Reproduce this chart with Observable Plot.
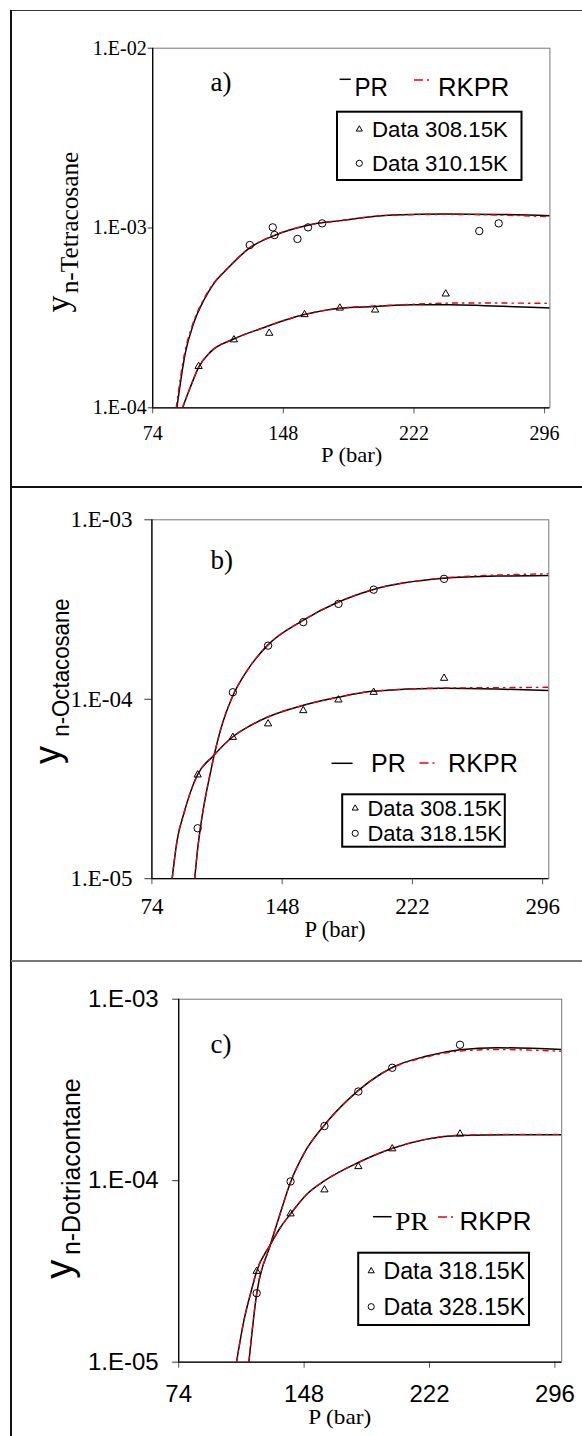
<!DOCTYPE html>
<html><head><meta charset="utf-8">
<script src="https://cdn.jsdelivr.net/npm/d3@7"></script>
<script src="https://cdn.jsdelivr.net/npm/@observablehq/plot@0.6"></script>
<style>
body{margin:0;background:#fff;}
#wrap{position:relative;width:582px;height:1436px;overflow:hidden;background:#fff;}
.pn{position:absolute;left:0;}
.bd{position:absolute;}
</style></head><body><div id="wrap"></div>
<script>
// ---------- shared ----------
const xTicks = [74, 148, 222, 296];

// ---------- panel a : n-Tetracosane ----------
const aYTicks = [1e-4, 1e-3, 1e-2];
const aYLabels = ["1.E-04", "1.E-03", "1.E-02"];
const aP308 = [100, 120, 140, 160, 180, 200, 240];
const aY308 = [1.70e-4, 2.39e-4, 2.60e-4, 3.30e-4, 3.59e-4, 3.50e-4, 4.30e-4];
const aP310 = [129, 142, 143, 156, 162, 170, 259, 270];
const aY310 = [8.04e-4, 1.008e-3, 9.14e-4, 8.69e-4, 1.008e-3, 1.061e-3, 9.62e-4, 1.061e-3];
const aPRupP = [87.7, 92.4, 97.1, 102.8, 108.5, 116.1, 129.3, 142.5, 163.3, 180.3, 210, 240, 270, 299];
const aPRupY = [1.0e-4, 2.0e-4, 2.93e-4, 3.94e-4, 4.89e-4, 5.91e-4, 7.80e-4, 9.06e-4, 1.043e-3, 1.099e-3, 1.18e-3, 1.195e-3, 1.19e-3, 1.17e-3];
const aRKupP = [87.3, 92.0, 96.7, 102.4, 108.2, 115.9, 129.2, 142.4, 163.3, 180.3, 210, 240, 270, 299];
const aRKupY = [1.0e-4, 2.0e-4, 2.93e-4, 3.94e-4, 4.89e-4, 5.91e-4, 7.80e-4, 9.06e-4, 1.043e-3, 1.099e-3, 1.18e-3, 1.19e-3, 1.18e-3, 1.155e-3];
const aPRloP = [90.9, 95.3, 100, 106.6, 120.2, 135, 159.9, 180, 199.8, 222, 242, 262, 299];
const aPRloY = [1.0e-4, 1.30e-4, 1.68e-4, 2.04e-4, 2.42e-4, 2.75e-4, 3.30e-4, 3.58e-4, 3.66e-4, 3.74e-4, 3.74e-4, 3.70e-4, 3.59e-4];
const aRKloP = [90.9, 95.3, 100, 106.6, 120.2, 135, 159.9, 180, 199.8, 222, 250, 299];
const aRKloY = [1.0e-4, 1.30e-4, 1.68e-4, 2.04e-4, 2.42e-4, 2.75e-4, 3.30e-4, 3.58e-4, 3.68e-4, 3.77e-4, 3.83e-4, 3.81e-4];

// ---------- panel b : n-Octacosane ----------
const bYTicks = [1e-5, 1e-4, 1e-3];
const bYLabels = ["1.E-05", "1.E-04", "1.E-03"];
const bP = [100, 120, 140, 160, 180, 200, 240];
const bY308 = [3.79e-5, 6.14e-5, 7.30e-5, 8.65e-5, 9.92e-5, 1.094e-4, 1.31e-4];
const bY318 = [1.91e-5, 1.094e-4, 1.99e-4, 2.69e-4, 3.40e-4, 4.08e-4, 4.69e-4];
const bPRupP = [98.3, 99.7, 101.6, 104.4, 107.3, 109.1, 112.9, 119.6, 128.1, 139.5, 159.6, 179.6, 199.5, 239.5, 270, 299.5];
const bPRupY = [1.0e-5, 1.38e-5, 1.94e-5, 2.84e-5, 3.92e-5, 4.75e-5, 6.70e-5, 1.026e-4, 1.445e-4, 1.99e-4, 2.74e-4, 3.47e-4, 4.08e-4, 4.72e-4, 4.86e-4, 4.89e-4];
const bRKupY = [1.0e-5, 1.38e-5, 1.94e-5, 2.84e-5, 3.92e-5, 4.75e-5, 6.70e-5, 1.026e-4, 1.445e-4, 1.99e-4, 2.74e-4, 3.47e-4, 4.08e-4, 4.74e-4, 4.92e-4, 5.0e-4];
const bPRloP = [85.5, 88.3, 92.1, 99.7, 109.1, 119.6, 130, 139.5, 159.6, 179.6, 199.5, 239.5, 270, 299.5];
const bPRloY = [1.0e-5, 1.63e-5, 2.30e-5, 3.76e-5, 4.86e-5, 6.14e-5, 7.14e-5, 7.94e-5, 9.23e-5, 1.026e-4, 1.108e-4, 1.15e-4, 1.14e-4, 1.118e-4];
const bRKloY = [1.0e-5, 1.63e-5, 2.30e-5, 3.76e-5, 4.86e-5, 6.14e-5, 7.14e-5, 7.94e-5, 9.23e-5, 1.026e-4, 1.108e-4, 1.155e-4, 1.16e-4, 1.166e-4];

// ---------- panel c : n-Dotriacontane ----------
const cYTicks = [1e-5, 1e-4, 1e-3];
const cYLabels = ["1.E-05", "1.E-04", "1.E-03"];
const cP = [120, 140, 160, 180, 200, 240];
const cY318 = [3.17e-5, 6.57e-5, 8.91e-5, 1.197e-4, 1.50e-4, 1.81e-4];
const cY328 = [2.40e-5, 9.90e-5, 2.00e-4, 3.10e-4, 4.19e-4, 5.61e-4];
const cPRupP = [115.4, 120, 127.8, 133.1, 140, 147.9, 159.7, 173.5, 200.3, 220, 240, 262.1, 300];
const cPRupY = [1.0e-5, 2.38e-5, 4.35e-5, 6.25e-5, 9.81e-5, 1.41e-4, 2.01e-4, 2.77e-4, 4.22e-4, 4.85e-4, 5.26e-4, 5.40e-4, 5.28e-4];
const cRKupY = [1.0e-5, 2.38e-5, 4.35e-5, 6.25e-5, 9.81e-5, 1.41e-4, 2.01e-4, 2.77e-4, 4.20e-4, 4.80e-4, 5.18e-4, 5.28e-4, 5.17e-4];
const cPRloP = [108.1, 112.5, 117.4, 120, 127.8, 134.1, 140, 149.9, 160.1, 180, 200.3, 240, 271.9, 300.5];
const cPRloY = [1.0e-5, 1.70e-5, 2.59e-5, 3.17e-5, 4.40e-5, 5.54e-5, 6.57e-5, 8.48e-5, 1.0e-4, 1.26e-4, 1.51e-4, 1.775e-4, 1.79e-4, 1.79e-4];
const cRKloY = [1.0e-5, 1.70e-5, 2.59e-5, 3.17e-5, 4.40e-5, 5.54e-5, 6.57e-5, 8.48e-5, 1.0e-4, 1.26e-4, 1.51e-4, 1.78e-4, 1.80e-4, 1.80e-4];

// ---------- helpers ----------
const zip = (ps, ys) => ps.map((p, i) => ({P: p, y: ys[i]}));
const fmt = (labels, ticks) => d => labels[ticks.findIndex(t => Math.abs(t - d) / t < 1e-6)];
const SERIF = "Liberation Serif, Times New Roman, serif";
const SANS = "Liberation Sans, Arial, sans-serif";
const RED = "#e8000b";
const DASH = "5,5,1.5,5";

function makePanel(c) {
  const marks = [
    Plot.frame({stroke: "#777", strokeWidth: 1}),
    Plot.axisX({ticks: xTicks, label: null, tickSize: 6, tickPadding: c.xPad, fontSize: c.tickFs, fontFamily: c.tickFont, stroke: "#555", tickFormat: d => String(d)}),
    Plot.axisY({ticks: c.yTicks, label: null, tickSize: c.yTickSize, tickPadding: c.yPad, fontSize: c.tickFs, fontFamily: c.tickFont, stroke: "#333", tickFormat: fmt(c.yLabels, c.yTicks)}),
    Plot.ruleX([c.xDomain[0]], {stroke: "#000", strokeWidth: 1.3}),
    Plot.ruleY([c.yDomain[0]], {stroke: "#000", strokeWidth: 1.3}),
    Plot.line(c.prUp, {x: "P", y: "y", stroke: "#000", strokeWidth: 1.5, curve: "monotone-x", clip: true}),
    Plot.line(c.prLo, {x: "P", y: "y", stroke: "#000", strokeWidth: 1.5, curve: "monotone-x", clip: true}),
    Plot.line(c.rkUp, {x: "P", y: "y", stroke: RED, strokeWidth: 1.4, strokeDasharray: DASH, curve: "monotone-x", clip: true}),
    Plot.line(c.rkLo, {x: "P", y: "y", stroke: RED, strokeWidth: 1.4, strokeDasharray: DASH, curve: "monotone-x", clip: true}),
    Plot.dot(c.tri, {x: "P", y: "y", symbol: "triangle", r: 2.7, stroke: "#000", strokeWidth: 1, fill: "none"}),
    Plot.dot(c.cir, {x: "P", y: "y", symbol: "circle", r: 3.7, stroke: "#000", strokeWidth: 1, fill: "none"})
  ];
  const svg = Plot.plot({
    width: 582, height: c.height,
    marginLeft: c.ml, marginRight: c.mr, marginTop: c.mt, marginBottom: c.mb,
    x: {type: "linear", domain: c.xDomain},
    y: {type: "log", domain: c.yDomain},
    style: {background: "transparent", color: "#000", overflow: "visible"},
    marks
  });
  svg.classList.add("pn");
  svg.style.top = c.top + "px";
  document.getElementById("wrap").appendChild(svg);
  const g = d3.select(svg).append("g");
  const T = (x, y, s, o) => {
    const t = g.append("text").attr("x", x).attr("y", y).text(s)
      .attr("font-family", o.font).attr("font-size", o.fs).attr("fill", "#000")
      .attr("text-anchor", o.anchor || "start");
    if (o.len) t.attr("textLength", o.len).attr("lengthAdjust", "spacingAndGlyphs");
    return t;
  };
  const R = (x, y, s, o) => {
    const t = g.append("text").attr("transform", `translate(${x},${y}) rotate(-90)`).text(s)
      .attr("font-family", o.font).attr("font-size", o.fs).attr("fill", "#000").attr("text-anchor", "middle");
    if (o.len) t.attr("textLength", o.len).attr("lengthAdjust", "spacingAndGlyphs");
  };
  const L = c.lab;
  T(L.tag[0], L.tag[1], c.tag, {font: SERIF, fs: 27});
  g.append("line").attr("x1", L.prLine[0]).attr("x2", L.prLine[1]).attr("y1", L.prLine[2]).attr("y2", L.prLine[2]).attr("stroke", "#000").attr("stroke-width", 1.5);
  T(L.pr[0], L.pr[1], "PR", {font: L.prFont, fs: 26, len: L.pr[2]});
  g.append("line").attr("x1", L.rkLine[0]).attr("x2", L.rkLine[1]).attr("y1", L.rkLine[2]).attr("y2", L.rkLine[2]).attr("stroke", RED).attr("stroke-width", 1.6).attr("stroke-dasharray", "9,4,2,4");
  T(L.rk[0], L.rk[1], "RKPR", {font: SANS, fs: 26, len: L.rk[2]});
  g.append("rect").attr("x", L.box[0]).attr("y", L.box[1]).attr("width", L.box[2]).attr("height", L.box[3]).attr("fill", "none").attr("stroke", "#000").attr("stroke-width", 2);
  g.append("path").attr("d", d3.symbol(d3.symbolTriangle, 16)()).attr("transform", `translate(${L.sym[0]},${L.sym[1]})`).attr("fill", "none").attr("stroke", "#000");
  g.append("circle").attr("cx", L.sym[0]).attr("cy", L.sym[2]).attr("r", 3.1).attr("fill", "none").attr("stroke", "#000");
  T(L.dtx[0], L.sym[1] + 0.36 * L.dfs, c.names[0], {font: SANS, fs: L.dfs, len: L.dtx[1]});
  T(L.dtx[0], L.sym[2] + 0.36 * L.dfs, c.names[1], {font: SANS, fs: L.dfs, len: L.dtx[1]});
  R(L.y[0], L.y[1], "y", {font: L.yFont, fs: L.y[2]});
  R(L.sub[0], L.sub[1], c.sub, {font: L.yFont, fs: L.sub[2], len: L.sub[3]});
  T(L.xl[0], L.xl[1], "P (bar)", {font: SERIF, fs: L.xl[2], len: L.xl[3], anchor: "middle"});
}

makePanel({
  top: 0, height: 487, ml: 152.2, mr: 32.6, mt: 47.7, mb: 79.7,
  xDomain: [74, 299], yDomain: [1e-4, 1e-2], yTicks: aYTicks, yLabels: aYLabels,
  tickFont: SERIF, tickFs: 20, xPad: 12, yTickSize: 4.5, yPad: 1.5,
  tri: zip(aP308, aY308), cir: zip(aP310, aY310),
  prUp: zip(aPRupP, aPRupY), rkUp: zip(aRKupP, aRKupY), prLo: zip(aPRloP, aPRloY), rkLo: zip(aRKloP, aRKloY),
  tag: "a)", names: ["Data 308.15K", "Data 310.15K"], sub: "n-Tetracosane",
  lab: {tag: [210.5, 91], prLine: [339.6, 350.8, 79.3], pr: [354.5, 95.5, 33.5], prFont: SANS,
        rkLine: [414, 430.6, 80], rk: [438, 95.5, 71.3], box: [337, 111.7, 184.5, 68.3],
        sym: [359.3, 129.3, 163.3], dtx: [372, 135.8], dfs: 22,
        yFont: SERIF, y: [68.7, 304, 34], sub: [78, 222.5, 25, 141.7], xl: [351.7, 462, 22, 61.3]}
});

makePanel({
  top: 487, height: 474, ml: 151.4, mr: 33.7, mt: 32.3, mb: 82.8,
  xDomain: [74, 299.5], yDomain: [1e-5, 1e-3], yTicks: bYTicks, yLabels: bYLabels,
  tickFont: SERIF, tickFs: 23, xPad: 13, yTickSize: 7, yPad: 12.5,
  tri: zip(bP, bY308), cir: zip(bP, bY318),
  prUp: zip(bPRupP, bPRupY), rkUp: zip(bPRupP, bRKupY), prLo: zip(bPRloP, bPRloY), rkLo: zip(bPRloP, bRKloY),
  tag: "b)", names: ["Data 308.15K", "Data 318.15K"], sub: "n-Octacosane",
  lab: {tag: [210.5, 82], prLine: [331.5, 352.6, 276.3], pr: [371, 284.7, 34.7], prFont: SANS,
        rkLine: [419.5, 436, 276], rk: [448, 284.7, 69.8], box: [342.2, 307.3, 162.6, 52.4],
        sym: [355.2, 321.3, 346.3], dtx: [367.5, 134.4], dfs: 22,
        yFont: SANS, y: [59.5, 268, 36], sub: [68.7, 180.5, 23, 138.4], xl: [335, 450, 23, 61.2]}
});

makePanel({
  top: 961, height: 475, ml: 178.2, mr: 20.8, mt: 37.7, mb: 74.3,
  xDomain: [74, 300], yDomain: [1e-5, 1e-3], yTicks: cYTicks, yLabels: cYLabels,
  tickFont: SANS, tickFs: 24, xPad: 17, yTickSize: 6, yPad: 14,
  tri: zip(cP, cY318), cir: zip(cP, cY328),
  prUp: zip(cPRupP, cPRupY), rkUp: zip(cPRupP, cRKupY), prLo: zip(cPRloP, cPRloY), rkLo: zip(cPRloP, cRKloY),
  tag: "c)", names: ["Data 318.15K", "Data 328.15K"], sub: "n-Dotriacontane",
  lab: {tag: [210.5, 92], prLine: [373, 391.6, 255.7], pr: [395.3, 269, 33.4], prFont: SERIF,
        rkLine: [438, 454.7, 256], rk: [459.5, 269, 72], box: [358.2, 291.7, 170.8, 72.3],
        sym: [371.2, 310, 345.7], dtx: [383.4, 141.8], dfs: 23,
        yFont: SANS, y: [71.7, 308.2, 38], sub: [79.8, 205.7, 25, 176.7], xl: [339.7, 463, 22, 63]}
});

const wrap = document.getElementById("wrap");
[[11, 9.5, 571, 1.6, "#333"], [10.2, 9.5, 1.6, 1427, "#111"], [11, 486, 571, 1.6, "#111"], [11, 960.3, 571, 1.6, "#777"]]
  .forEach(([l, t, w, h, col]) => {
    const d = document.createElement("div");
    d.className = "bd";
    Object.assign(d.style, {left: l + "px", top: t + "px", width: w + "px", height: h + "px", background: col});
    wrap.appendChild(d);
  });
</script></body></html>
